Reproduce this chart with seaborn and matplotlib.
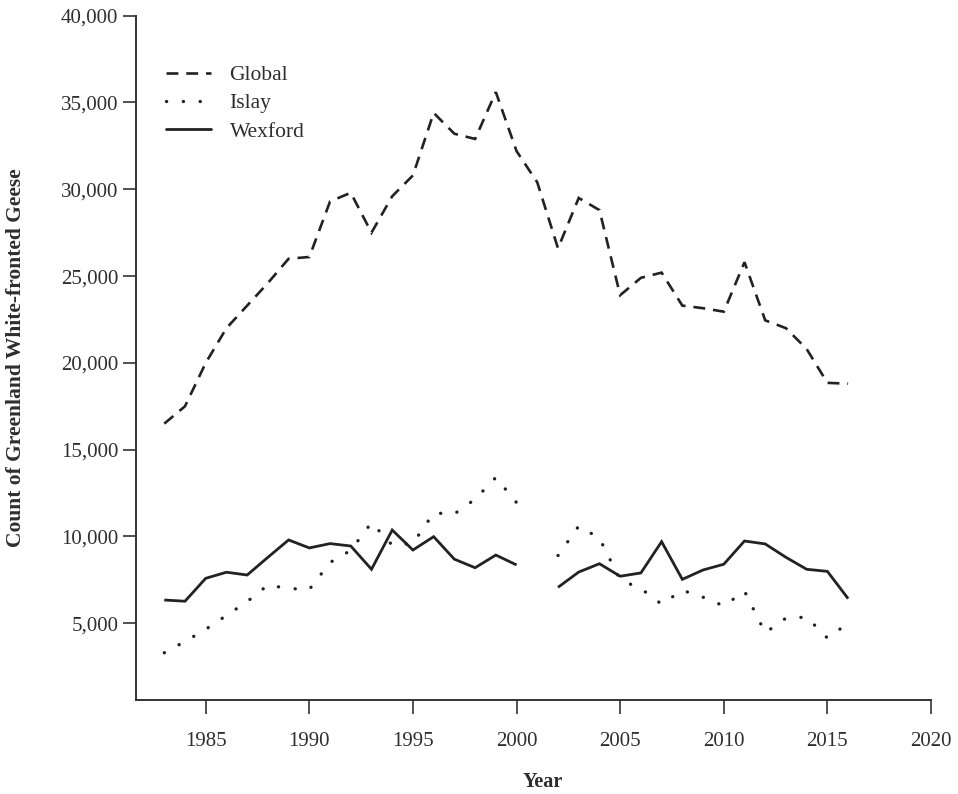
import matplotlib
matplotlib.use("Agg")
import matplotlib.pyplot as plt
from matplotlib.lines import Line2D
from matplotlib.ticker import FuncFormatter
import numpy as np
import pandas as pd
import seaborn as sns

# ---- data ----
years = list(range(1983, 2017))
global_counts = [16500, 17500, 20000, 22000, 23300, 24600, 26000, 26100, 29300, 29800,
                 27500, 29600, 30800, 34400, 33200, 32900, 35600, 32200, 30400, 26600,
                 29500, 28800, 23900, 24900, 25200, 23300, 23150, 22950, 25800, 22450,
                 22000, 20800, 18850, 18800]
islay_counts = [3300, 3950, 4650, 5450, 6250, 7200, 7000, 6950, 8500, 9200,
                10800, 9500, 9600, 11350, 11300, 12150, 13400, 11950, np.nan, 8900,
                10600, 9900, 7500, 7000, 6100, 6900, 6500, 6000, 6850, 4450,
                5300, 5350, 4150, 5000]
wexford_counts = [6340, 6270, 7590, 7940, 7780, 8800, 9800, 9340, 9590, 9450,
                  8110, 10370, 9220, 9990, 8690, 8200, 8930, 8360, np.nan, 7070,
                  7950, 8430, 7710, 7900, 9700, 7530, 8070, 8400, 9740, 9570,
                  8800, 8110, 7990, 6420]
series_names = ["Global", "Islay", "Wexford"]
x_ticks = [1985, 1990, 1995, 2000, 2005, 2010, 2015, 2020]
y_ticks = [5000, 10000, 15000, 20000, 25000, 30000, 35000, 40000]


def segments(name, vals):
    rows = []
    seg = 0
    for y, v in zip(years, vals):
        if v is None or (isinstance(v, float) and np.isnan(v)):
            seg += 1
            continue
        rows.append({"Year": y, "Count": v, "Series": name, "Seg": f"{name}-{seg}"})
    return pd.DataFrame(rows)


sns.set_style("ticks")
plt.rcParams["font.family"] = ["Liberation Serif", "DejaVu Serif"]

INK = "#222222"
TXT = "#2e2e2e"

W, H = 958, 794
fig = plt.figure(figsize=(W / 100, H / 100), dpi=100)
left, right, top, bottom = 136.3, 931.0, 15.7, 700.0
ax = fig.add_axes([left / W, 1 - bottom / H, (right - left) / W, (bottom - top) / H])

styles = {
    "Global": dict(lw=1.9, dashes=(4.5, 3.0), cap="butt"),
    "Islay": dict(lw=2.4, dashes=(0.05, 5.0), cap="round"),
    "Wexford": dict(lw=2.0, dashes=None, cap="butt"),
}

for name, vals in zip(series_names, [global_counts, islay_counts, wexford_counts]):
    df = segments(name, vals)
    n0 = len(ax.lines)
    sns.lineplot(data=df, x="Year", y="Count", units="Seg", estimator=None,
                 color=INK, lw=styles[name]["lw"], legend=False, ax=ax, sort=False)
    for ln in ax.lines[n0:]:
        st = styles[name]
        if st["dashes"] is not None:
            ln.set_dashes(st["dashes"])
        ln.set_dash_capstyle(st["cap"])
        ln.set_solid_capstyle("butt")
        ln.set_solid_joinstyle("miter")
        ln.set_dash_joinstyle("miter")

ax.set_xlim(1981.65, 2020)
ax.set_ylim(580, 40000)
ax.set_xticks(x_ticks)
ax.set_yticks(y_ticks)
ax.yaxis.set_major_formatter(FuncFormatter(lambda v, p: f"{int(v):,}"))

sns.despine(ax=ax)
for s in ["left", "bottom"]:
    ax.spines[s].set_linewidth(1.4)
    ax.spines[s].set_color("#333333")

ax.tick_params(axis="x", length=10, width=1.2, color="#333333", pad=13,
               labelsize=15, labelcolor=TXT, direction="out")
ax.tick_params(axis="y", length=9.4, width=1.2, color="#333333", pad=3.6,
               labelsize=15, labelcolor=TXT, direction="out")

ax.set_xlabel("Year", fontsize=14.5, fontweight="bold", color=TXT)
ax.xaxis.set_label_coords((543 - left) / (right - left), (bottom - 772) / (bottom - top))
ax.set_ylabel("Count of Greenland White-fronted Geese", fontsize=15.5,
              fontweight="bold", color=TXT)
ax.yaxis.set_label_coords((26 - left) / (right - left), 0.5)

handles = []
for name in series_names:
    st = styles[name]
    h = Line2D([0], [0], color=INK, lw=st["lw"])
    if st["dashes"] is not None:
        h.set_dashes(st["dashes"])
    h.set_dash_capstyle(st["cap"])
    handles.append(h)

leg = ax.legend(handles, series_names, loc="upper left",
                bbox_to_anchor=((166 - left) / (right - left), (bottom - 65) / (bottom - top)),
                frameon=False, fontsize=15.5, handlelength=2.1, handletextpad=0.85,
                labelspacing=0.38, borderpad=0, borderaxespad=0)
for t in leg.get_texts():
    t.set_color(TXT)

fig.savefig("out.png", dpi=100)
